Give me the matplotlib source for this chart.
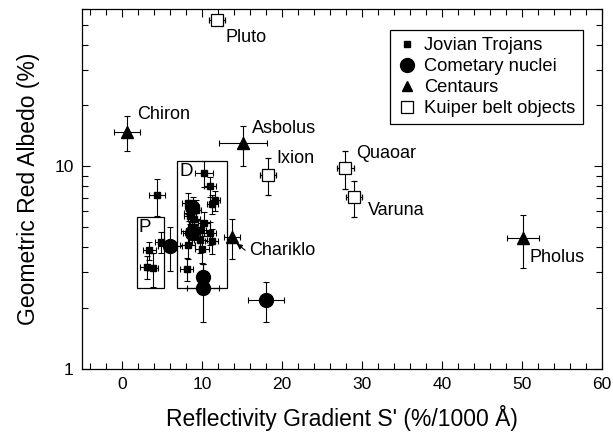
import matplotlib
matplotlib.use("Agg")
import matplotlib.pyplot as plt
from matplotlib.lines import Line2D
from matplotlib.patches import Rectangle
from matplotlib.ticker import MultipleLocator, LogLocator, NullFormatter, FixedLocator

plt.rcParams['font.family'] = ['Liberation Sans', 'DejaVu Sans']

# Jovian Trojans: gradient, albedo, x-error, y-error
trojan_s = [4.4, 10.25, 11.0, 11.6, 11.3, 8.3, 8.9, 8.5, 9.2, 8.5, 9.0, 10.25, 9.0, 9.75, 11.0, 8.4, 11.2, 9.8, 8.2, 10.0, 8.1, 4.9, 3.4, 3.1, 3.9]
trojan_a = [7.2, 9.3, 8.0, 6.8, 6.5, 6.6, 6.3, 5.9, 6.1, 5.7, 5.5, 5.25, 5.0, 4.85, 4.7, 4.8, 4.3, 4.35, 4.08, 3.93, 3.12, 4.25, 3.85, 3.2, 3.14]
trojan_se = [1.0, 1.1, 0.8, 0.6, 0.7, 0.8, 0.7, 0.8, 0.7, 0.7, 0.8, 0.8, 0.8, 0.8, 0.8, 1.0, 0.8, 0.8, 0.9, 0.9, 0.8, 0.8, 0.8, 0.8, 0.6]
trojan_ae = [1.5, 1.4, 0.9, 0.8, 0.7, 0.8, 0.8, 0.7, 0.7, 0.7, 0.7, 0.7, 0.6, 0.6, 0.6, 0.6, 0.6, 0.6, 0.6, 0.6, 0.4, 0.5, 0.4, 0.4, 0.6]

# Cometary nuclei
comet_s = [6.0, 8.7, 8.8, 10.1, 10.1, 18.0]
comet_a = [4.05, 6.3, 4.7, 2.85, 2.5, 2.2]
comet_se = [1.5, 0.5, 1.2, 0.5, 2.0, 2.2]
comet_ae = [1.0, 0.5, 0.6, 0.45, 0.8, 0.5]

# Centaurs
centaur_names = ["Chiron", "Asbolus", "Chariklo", "Pholus"]
centaur_s = [0.66, 15.1, 13.7, 50.1]
centaur_a = [14.8, 13.0, 4.5, 4.46]
centaur_se = [1.6, 3.0, 1.0, 2.0]
centaur_ae = [2.9, 2.9, 1.0, 1.3]

# Kuiper belt objects
kbo_names = ["Pluto", "Ixion", "Quaoar", "Varuna"]
kbo_s = [11.9, 18.25, 27.9, 29.0]
kbo_a = [53.0, 9.1, 9.8, 7.07]
kbo_se = [1.0, 0.94, 1.04, 0.94]
kbo_ae = [0.0, 1.9, 2.1, 1.45]

fig = plt.figure(figsize=(6.13, 4.41), dpi=100)
ax = fig.add_axes([0.1338, 0.163, 0.8482, 0.817])

eb_kw = dict(ecolor='black', elinewidth=0.8, capsize=2.5, capthick=0.8, linestyle='none')

ax.errorbar(trojan_s, trojan_a, xerr=trojan_se, yerr=trojan_ae, fmt='s', ms=4,
            mfc='black', mec='black', **eb_kw)
ax.errorbar(comet_s, comet_a, xerr=comet_se, yerr=comet_ae, fmt='o', ms=10,
            mfc='black', mec='black', **eb_kw)
ax.errorbar(centaur_s, centaur_a, xerr=centaur_se, yerr=centaur_ae, fmt='^', ms=9,
            mfc='black', mec='black', **eb_kw)
ax.errorbar(kbo_s, kbo_a, xerr=kbo_se, yerr=kbo_ae, fmt='s', ms=9,
            mfc='white', mec='black', mew=0.9, **eb_kw)

# Group boxes
ax.add_patch(Rectangle((1.9, 2.52), 5.25 - 1.9, 5.63 - 2.52, fill=False, ec='black', lw=0.9))
ax.add_patch(Rectangle((6.83, 2.51), 13.08 - 6.83, 10.6 - 2.51, fill=False, ec='black', lw=0.9))
ax.text(2.9, 5.02, "P", fontsize=13.5, ha='center', va='center')
ax.text(8.0, 9.5, "D", fontsize=13.5, ha='center', va='center')

lab_fs = 13
ax.text(12.9, 43.2, "Pluto", fontsize=lab_fs, ha='left', va='center')
ax.text(1.83, 18.0, "Chiron", fontsize=lab_fs, ha='left', va='center')
ax.text(16.3, 15.4, "Asbolus", fontsize=lab_fs, ha='left', va='center')
ax.text(19.25, 11.0, "Ixion", fontsize=lab_fs, ha='left', va='center')
ax.text(29.3, 11.6, "Quaoar", fontsize=lab_fs, ha='left', va='center')
ax.text(30.8, 6.07, "Varuna", fontsize=lab_fs, ha='left', va='center')
ax.text(51.0, 3.57, "Pholus", fontsize=lab_fs, ha='left', va='center')
ax.text(15.9, 3.86, "Chariklo", fontsize=lab_fs, ha='left', va='center')
ax.annotate("", xy=(14.34, 4.16), xytext=(15.4, 3.86),
            arrowprops=dict(arrowstyle='-|>', color='black', lw=0.8,
                            mutation_scale=8, shrinkA=0, shrinkB=0))

ax.set_xlim(-5, 60)
ax.set_yscale('log')
ax.set_ylim(1, 60)
ax.xaxis.set_major_locator(MultipleLocator(10))
ax.xaxis.set_minor_locator(MultipleLocator(2))
ax.yaxis.set_major_locator(FixedLocator([1, 10]))
ax.yaxis.set_minor_locator(LogLocator(base=10, subs=range(2, 10)))
ax.yaxis.set_minor_formatter(NullFormatter())
ax.set_yticklabels(["1", "10"])

ax.tick_params(which='both', direction='in', top=True, right=True, width=0.8, labelsize=12.5, pad=6)
ax.tick_params(which='major', length=6)
ax.tick_params(which='minor', length=4)
for sp in ax.spines.values():
    sp.set_linewidth(0.9)

ax.set_xlabel("Reflectivity Gradient S' (%/1000 Å)", fontsize=16.5, labelpad=9)
ax.set_ylabel("Geometric Red Albedo (%)", fontsize=16.5, labelpad=10)

handles = [
    Line2D([], [], marker='s', ls='none', ms=4, mfc='black', mec='black'),
    Line2D([], [], marker='o', ls='none', ms=10, mfc='black', mec='black'),
    Line2D([], [], marker='^', ls='none', ms=7, mfc='black', mec='black'),
    Line2D([], [], marker='s', ls='none', ms=8, mfc='white', mec='black', mew=0.9),
]
labels = ["Jovian Trojans", "Cometary nuclei", "Centaurs", "Kuiper belt objects"]
leg = ax.legend(handles, labels, loc='upper right', bbox_to_anchor=(0.963, 0.942),
                fontsize=13.2, frameon=True, fancybox=False, edgecolor='black',
                framealpha=1, borderpad=0.4, labelspacing=0.22, handletextpad=0.45,
                handlelength=1.0, borderaxespad=0)
leg.get_frame().set_linewidth(0.9)

fig.savefig("out.png", dpi=100)
